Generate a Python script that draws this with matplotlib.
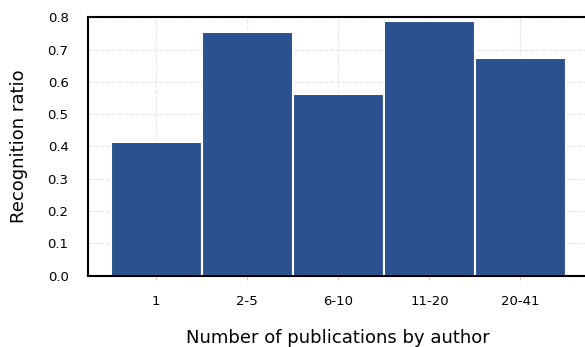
import matplotlib
matplotlib.use("Agg")
import matplotlib.pyplot as plt

# groups and recognition ratio
groups = ['1', '2-5', '6-10', '11-20', '20-41']
ratio = [0.414, 0.754, 0.561, 0.789, 0.674]

fig = plt.figure(figsize=(5.85, 3.47), dpi=100)
ax = fig.add_axes([0.1504, 0.206, 0.856, 0.744])

x = range(len(groups))
ax.bar(x, ratio, width=1.0, color='#2b528e', edgecolor='white', linewidth=1.5, zorder=2)

ax.set_xlim(-0.75, 4.75)
ax.set_ylim(0, 0.8)
ax.set_xticks(list(x))
ax.set_xticklabels(groups)
ax.set_yticks([0.0, 0.1, 0.2, 0.3, 0.4, 0.5, 0.6, 0.7, 0.8])

ax.grid(True, linestyle='--', color='#e6e6e6', linewidth=0.8, zorder=0)
ax.set_axisbelow(True)

for s in ['left', 'bottom', 'top']:
    ax.spines[s].set_linewidth(1.5)
    ax.spines[s].set_color('black')
ax.spines['right'].set_visible(False)

ax.tick_params(axis='x', length=3, color='#cccccc', pad=11, labelsize=9.5)
ax.tick_params(axis='y', length=0, pad=14, labelsize=9.5)

ax.set_xlabel('Number of publications by author', fontsize=13, labelpad=15)
ax.set_ylabel('Recognition ratio', fontsize=13, labelpad=14)

fig.savefig('out.png', dpi=100)
